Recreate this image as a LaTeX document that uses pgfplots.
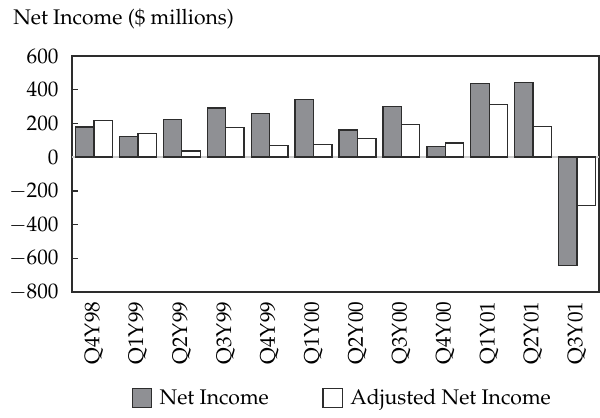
\documentclass[border=0pt]{standalone}
\usepackage[T1]{fontenc}
\usepackage{mathpazo}
\usepackage{pgfplots}
\pgfplotsset{compat=1.18}
\definecolor{barg}{RGB}{143,144,148}
\definecolor{edge}{RGB}{45,45,45}
\definecolor{zline}{RGB}{205,205,205}
\begin{document}
\begin{tikzpicture}[font=\fontsize{12.7}{15}\selectfont]
\begin{axis}[
  name=ax,
  scale only axis, width=316.2pt, height=141.6pt,
  xmin=-0.5, xmax=11.5, ymin=-800, ymax=600,
  ytick={-800,-600,-400,-200,0,200,400,600},
  xtick={0,1,2,3,4,5,6,7,8,9,10,11},
  xticklabels={Q4Y98,Q1Y99,Q2Y99,Q3Y99,Q4Y99,Q1Y00,Q2Y00,Q3Y00,Q4Y00,Q1Y01,Q2Y01,Q3Y01},
  x tick label style={yshift=-2.3pt, rotate=90, anchor=east},
  y tick label style={xshift=-4.6pt},
  ytick pos=left, tick align=inside, major tick length=3.6pt,
  y tick style={edge, line width=0.8pt},
  x tick style={draw=none},
  axis line style={edge, line width=0.8pt},
  legend style={at={(0.514,-0.449)}, anchor=center, draw=none, legend columns=2,
    font=\fontsize{12.7}{15}\selectfont,
    /tikz/every odd column/.append style={column sep=2.5pt},
    /tikz/every even column/.append style={column sep=30pt}},
  legend image code/.code={\draw[#1] (0pt,-5.8pt) rectangle (11.6pt,5.8pt);},
]
\addplot[forget plot, color=zline, line width=1pt] coordinates {(-0.5,0) (11.5,0)};
\addplot[ybar, bar width=0.42, bar shift=-0.21, fill=barg, draw=edge, line width=0.8pt] coordinates {
(0,178) (1,121) (2,224) (3,291) (4,257) (5,340) (6,160) (7,302) (8,62) (9,435) (10,443) (11,-644)};
\addplot[ybar, bar width=0.42, bar shift=0.21, fill=white, draw=edge, line width=0.8pt] coordinates {
(0,216) (1,140) (2,36) (3,174) (4,71) (5,75) (6,109) (7,194) (8,83) (9,314) (10,182) (11,-286)};
\legend{Net Income, Adjusted Net Income}
\end{axis}
\node[anchor=base west, inner sep=0pt] at ([shift={(-35.4pt,18.6pt)}]ax.north west) {Net Income (\$ millions)};
\path ([shift={(-43.2pt,-75pt)}]ax.south west) rectangle ([shift={(316.8pt,175.2pt)}]ax.south west);
\end{tikzpicture}
\end{document}
